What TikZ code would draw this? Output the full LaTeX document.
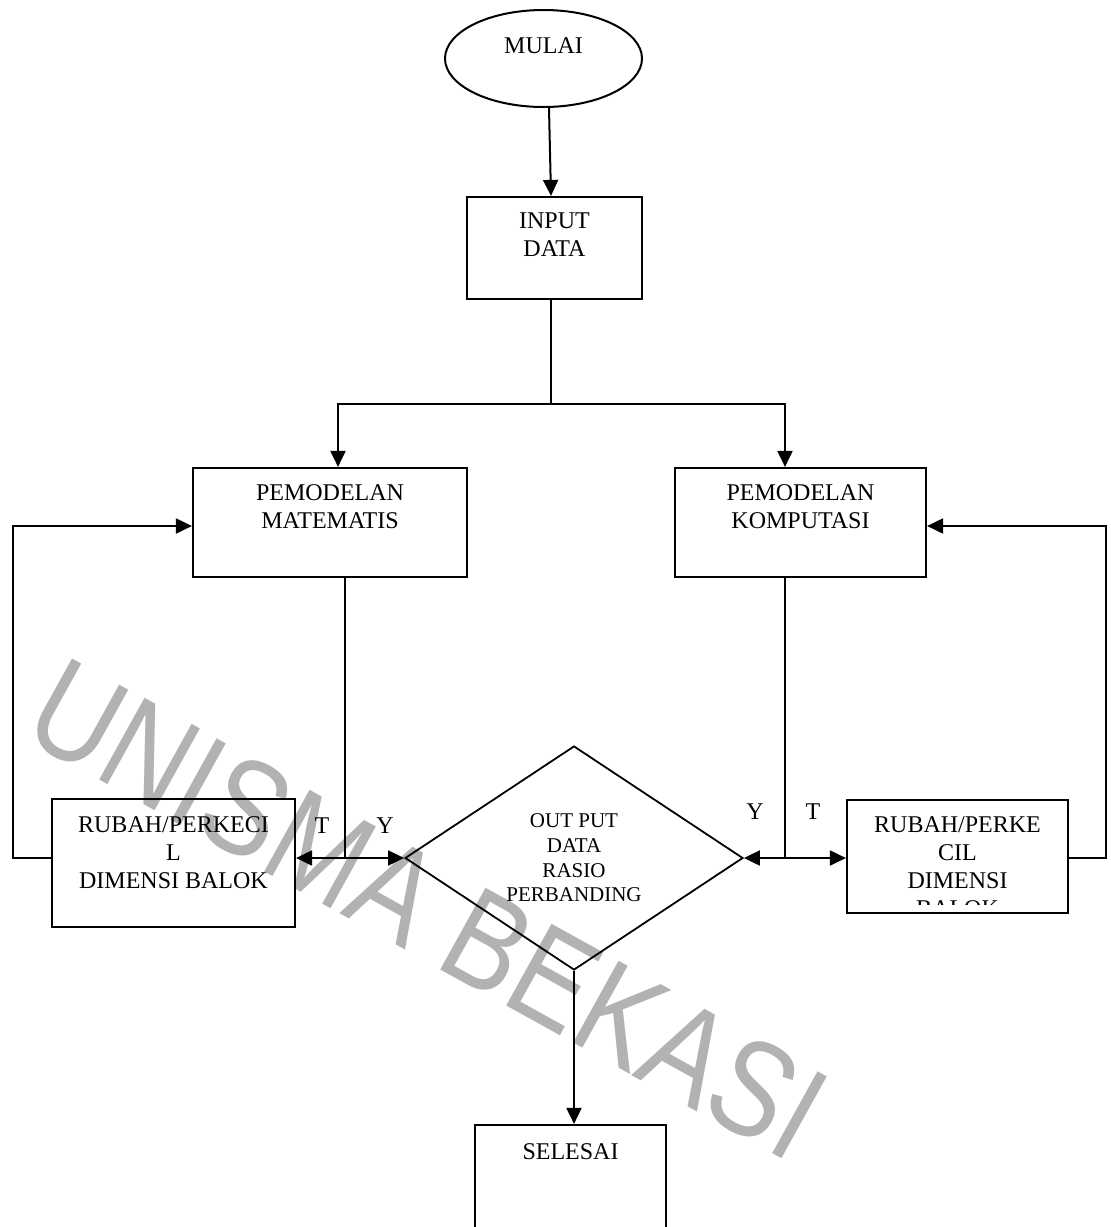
\documentclass[tikz,border=0pt]{standalone}
\usepackage{fontspec}
\setmainfont{Liberation Serif}
\newfontfamily\wmfont{Liberation Sans}
\usetikzlibrary{shapes.geometric,arrows.meta}
\begin{document}
\begin{tikzpicture}[x=0.5pt,y=-0.5pt,
  box/.style={draw,line width=1.1pt,rectangle,inner sep=0pt},
  txt/.style={font=\fontsize{12}{14}\selectfont,align=center,inner sep=0pt},
  dtxt/.style={font=\fontsize{10.5}{12.3}\selectfont,align=center,inner sep=0pt},
  conn/.style={line width=1pt},
  arr/.style={conn,-{Triangle[length=8pt,width=7.5pt]}},
]
\useasboundingbox (0,0) rectangle (1110,1227);
\clip (0,0) rectangle (1110,1227);

% watermark
\node[font=\wmfont\fontsize{68}{70}\selectfont, text=black!30, rotate=-29, xscale=0.834, inner sep=0pt] (wm) at (428,909) {UNISMA BEKASI};

% shapes
\node[draw,ellipse,line width=1pt,minimum width=98.5pt,minimum height=48.5pt,inner sep=0pt] (mulai) at (543.5,58.5) {};
\node[txt,anchor=north] (mulaitext) at ([yshift=-14pt]mulai.north) {MULAI};

\node[box,minimum width=87.5pt,minimum height=51pt] (inp) at (554.5,248) {};
\node[txt,anchor=north] (inptext) at ([yshift=-8pt]inp.north) {INPUT\\DATA};

\node[box,minimum width=137pt,minimum height=54.5pt] (mat) at (330,522.5) {};
\node[txt,anchor=north] (mattext) at ([yshift=-8.5pt]mat.north) {PEMODELAN\\MATEMATIS};

\node[box,minimum width=125.5pt,minimum height=54.5pt] (kom) at (800.5,522.5) {};
\node[txt,anchor=north] (komtext) at ([yshift=-8.5pt]kom.north) {PEMODELAN\\KOMPUTASI};

\node[box,minimum width=121.5pt,minimum height=64pt] (lb) at (173.5,863) {};
\node[txt,anchor=north] (lbtext) at ([yshift=-9pt]lb.north) {RUBAH/PERKECI\\L\\DIMENSI BALOK};

\node[box,minimum width=110.5pt,minimum height=56.5pt] (rb) at (957.5,856.5) {};
\begin{scope}
\clip (847,790) rectangle (1068,904);
\node[txt,anchor=north] (rbtext) at ([yshift=-8.5pt]rb.north) {RUBAH/PERKE\\CIL\\DIMENSI\\BALOK};
\end{scope}

\node[draw,diamond,line width=0.9pt,minimum width=169pt,minimum height=112pt,inner sep=0pt,dtxt] (dia) at (574,858) {OUT PUT\\DATA\\RASIO\\PERBANDING};

\node[box,minimum width=95.5pt,minimum height=67.5pt] (sel) at (570.5,1192.5) {};
\node[txt,anchor=north] (seltext) at ([yshift=-9.5pt]sel.north) {SELESAI};

% labels
\node[txt] (t1) at (322,826) {T};
\node[txt] (y1) at (385,826) {Y};
\node[txt] (y2) at (755,812) {Y};
\node[txt] (t2) at (813,812) {T};

% connectors
\draw[arr] ([xshift=2.75pt]mulai.south) -- ([xshift=-1.75pt]inp.north);
\coordinate (split) at (551,404);
\draw[conn] ([xshift=-1.75pt]inp.south) -- (split);
\draw[arr] (split) -| ([xshift=4pt]mat.north);
\draw[arr] (split) -| ([xshift=-7.75pt]kom.north);

\coordinate (lj) at (345,858);
\draw[conn] ([xshift=7.5pt]mat.south) -- (lj);
\draw[arr] (lj) -- (lb.east |- lj);
\draw[arr] (lj) -- (dia.west);

\coordinate (rj) at (785,858);
\draw[conn] ([xshift=-7.75pt]kom.south) -- (rj);
\draw[arr] (rj) -- (dia.east);
\draw[arr] (rj) -- (rb.west |- rj);

\draw[arr] (lb.west |- lj) -- ++(-38,0) |- ([yshift=-1.75pt]mat.west);
\draw[arr] (rb.east |- rj) -- ++(37,0) |- ([yshift=-1.75pt]kom.east);

\draw[arr] (dia.south) -- (dia.south |- sel.north);
\end{tikzpicture}
\end{document}
